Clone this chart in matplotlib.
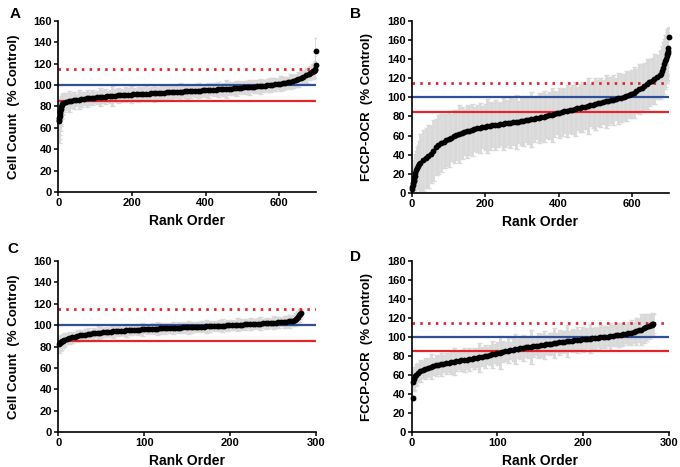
import matplotlib
matplotlib.use("Agg")
import matplotlib.pyplot as plt

plt.rcParams['font.family'] = ['Liberation Sans', 'DejaVu Sans']
plt.rcParams['font.weight'] = 'bold'

# ---------------- Panel A : Cell count, full library ----------------
A_rank = list(range(1, 11)) + list(range(14, 680, 7)) + [684, 688, 691, 694, 696, 697, 698, 699]
A_mean = [66.0, 67.5, 69.5, 71.5, 73.5, 76.0, 78.0, 79.5, 81.0, 82.3,
          83.4, 84.3, 84.8, 85.3, 85.7, 86.1, 86.5, 86.9, 87.2, 87.5,
          87.8, 88.1, 88.4, 88.6, 88.9, 89.1, 89.3, 89.5, 89.7, 89.9,
          90.1, 90.3, 90.5, 90.7, 90.8, 91.0, 91.1, 91.3, 91.4, 91.6,
          91.7, 91.9, 92.0, 92.1, 92.3, 92.4, 92.6, 92.7, 92.8, 93.0,
          93.1, 93.3, 93.4, 93.5, 93.7, 93.8, 93.9, 94.1, 94.2, 94.3,
          94.5, 94.6, 94.8, 94.9, 95.0, 95.2, 95.3, 95.5, 95.6, 95.8,
          95.9, 96.1, 96.2, 96.4, 96.6, 96.8, 97.0, 97.2, 97.4, 97.6,
          97.8, 98.0, 98.2, 98.4, 98.6, 98.8, 99.0, 99.2, 99.5, 99.8,
          100.1, 100.4, 100.7, 101.0, 101.3, 101.6, 102.0, 102.5, 103.0, 103.6,
          104.5, 105.6, 106.8, 108.0, 109.3, 110.6,
          111.6, 112.3, 113.0, 113.6, 114.2, 115.0, 119.0, 131.5]
A_err = [20, 18, 16, 14, 12, 12, 10, 10, 9, 9,
         9, 8, 10, 7, 8, 6, 9, 7, 6, 8,
         6, 7, 5, 6, 8, 6, 7, 5, 6, 9,
         6, 7, 6, 5, 7, 6, 8, 6, 5, 7,
         6, 6, 7, 5, 6, 8, 6, 5, 6, 7,
         6, 5, 7, 6, 6, 8, 5, 6, 7, 6,
         5, 6, 7, 6, 5, 6, 7, 5, 6, 6,
         7, 5, 6, 8, 6, 5, 6, 7, 6, 5,
         6, 6, 7, 5, 6, 6, 7, 6, 5, 6,
         7, 6, 6, 5, 7, 6, 6, 5, 7, 6,
         6, 7, 6, 6, 7, 6,
         6, 7, 6, 7, 8, 7, 8, 13]

# ---------------- Panel B : FCCP-OCR, full library ----------------
B_rank = [1, 2, 3, 4, 5, 6, 7, 8, 10, 12, 14, 17, 20] + list(range(24, 676, 7)) + \
         [679, 682, 685, 688, 690, 692, 694, 696, 697, 698, 699, 700]
B_mean = [4.0, 6.0, 8.0, 10.0, 12.0, 14.0, 16.0, 18.0, 21.0, 24.0, 26.5, 28.5, 30.0,
          31.5, 34.0, 36.5, 38.5, 40.5, 44.0, 48.0, 50.5, 52.3, 53.8,
          55.2, 56.6, 57.9, 59.2, 60.5, 61.6, 62.6, 63.6, 64.5, 65.3,
          66.1, 66.8, 67.5, 68.1, 68.7, 69.3, 69.8, 70.3, 70.8, 71.2,
          71.6, 72.0, 72.3, 72.7, 73.1, 73.5, 73.9, 74.3, 74.7, 75.1,
          75.6, 76.0, 76.5, 77.0, 77.5, 78.1, 78.7, 79.3, 79.9, 80.5,
          81.1, 81.8, 82.5, 83.2, 83.9, 84.6, 85.3, 86.0, 86.6, 87.2,
          87.8, 88.4, 89.0, 89.7, 90.4, 91.1, 91.8, 92.5, 93.2, 93.9,
          94.6, 95.2, 95.8, 96.4, 97.0, 97.6, 98.3, 99.0, 99.7, 100.5,
          101.3, 102.3, 103.5, 105.0, 106.7, 108.5, 110.3, 112.1, 113.9, 115.7,
          117.5, 119.3, 121.2, 123.2,
          125.0, 127.5, 131.0, 135.0, 138.0, 140.5, 143.0, 145.0, 147.0, 148.5, 152.0, 163.5]
B_err = [8, 10, 12, 14, 15, 16, 18, 18, 20, 20, 22, 22, 24,
         30, 32, 31, 33, 30, 32, 29, 31, 30, 28,
         27, 29, 25, 28, 26, 30, 27, 24, 28, 26,
         27, 23, 25, 26, 22, 24, 28, 25, 23, 26,
         24, 22, 27, 25, 23, 26, 24, 28, 22, 25,
         26, 23, 25, 29, 24, 22, 26, 25, 27, 23,
         25, 28, 24, 22, 26, 25, 23, 27, 24, 26,
         28, 23, 25, 26, 24, 29, 22, 25, 27, 24,
         26, 23, 28, 25, 24, 26, 22, 27, 25, 24,
         26, 24, 25, 27, 23, 26, 25, 24, 26, 25,
         24, 26, 23, 25,
         25, 26, 27, 26, 27, 25, 26, 27, 25, 24, 20, 10]

# ---------------- Panel C : Cell count, hit set ----------------
C_rank = [1, 2, 3, 4, 5] + list(range(7, 272, 3)) + [273, 275, 277, 278, 279, 280, 281, 282]
C_mean = [82.0, 83.0, 84.0, 84.7, 85.3,
          86.2, 87.2, 88.0, 88.7, 89.3, 89.9, 90.4, 90.8, 91.2, 91.6,
          91.9, 92.2, 92.5, 92.8, 93.0, 93.3, 93.5, 93.7, 93.9, 94.1,
          94.3, 94.5, 94.7, 94.9, 95.1, 95.2, 95.4, 95.6, 95.7, 95.9,
          96.0, 96.2, 96.3, 96.4, 96.6, 96.7, 96.8, 96.9, 97.0, 97.1,
          97.2, 97.3, 97.4, 97.5, 97.6, 97.7, 97.8, 97.9, 98.0, 98.1,
          98.2, 98.4, 98.5, 98.6, 98.7, 98.8, 98.9, 99.0, 99.2, 99.3,
          99.4, 99.5, 99.6, 99.8, 99.9, 100.0, 100.2, 100.3, 100.4, 100.6,
          100.7, 100.9, 101.0, 101.1, 101.3, 101.4, 101.5, 101.7, 101.8, 102.0,
          102.1, 102.3, 102.4, 102.6, 102.8, 103.0, 103.2, 103.5, 103.9,
          104.3, 105.0, 106.0, 107.0, 108.0, 109.3, 110.5, 111.5]
C_err = [8, 7, 7, 6, 6,
         6, 5, 6, 5, 4, 6, 5, 4, 5, 6,
         4, 5, 4, 6, 5, 4, 5, 4, 5, 6,
         4, 5, 4, 5, 6, 4, 5, 4, 5, 4,
         6, 4, 5, 4, 5, 4, 6, 5, 4, 5,
         4, 5, 6, 4, 5, 4, 5, 4, 6, 5,
         4, 5, 4, 5, 4, 6, 5, 4, 5, 4,
         5, 6, 4, 5, 4, 5, 4, 6, 5, 4,
         5, 4, 6, 5, 4, 5, 6, 4, 5, 5,
         4, 6, 5, 5, 4, 6, 5, 6, 5,
         5, 6, 5, 6, 5, 6, 5, 4]

# ---------------- Panel D : FCCP-OCR, hit set ----------------
D_rank = [1, 2, 3, 4, 5] + list(range(7, 278, 3)) + [279, 280, 281, 282]
D_mean = [36.0, 53.0, 56.0, 58.5, 60.5,
          62.5, 64.3, 65.6, 66.7, 67.7, 68.6, 69.4, 70.1, 70.8, 71.4,
          72.0, 72.5, 73.0, 73.5, 74.0, 74.4, 74.9, 75.3, 75.7, 76.1,
          76.5, 77.0, 77.5, 78.0, 78.6, 79.2, 79.8, 80.4, 81.1, 81.7,
          82.4, 83.0, 83.6, 84.3, 84.9, 85.5, 86.1, 86.7, 87.2, 87.7,
          88.2, 88.6, 89.0, 89.4, 89.8, 90.2, 90.6, 91.0, 91.4, 91.8,
          92.2, 92.6, 93.0, 93.5, 93.9, 94.3, 94.7, 95.1, 95.5, 95.9,
          96.2, 96.5, 96.9, 97.2, 97.5, 97.8, 98.1, 98.4, 98.7, 99.0,
          99.3, 99.6, 99.9, 100.1, 100.5, 100.8, 101.2, 101.6, 102.0, 102.4,
          102.9, 103.4, 103.9, 104.5, 105.2, 106.0, 106.9, 107.9, 109.0, 110.2,
          111.4,
          112.2, 112.8, 113.5, 114.2]
D_err = [2, 10, 12, 10, 11,
         10, 12, 9, 11, 10, 13, 9, 11, 10, 12,
         9, 11, 10, 12, 14, 10, 9, 11, 13, 10,
         12, 9, 11, 10, 15, 10, 12, 9, 11, 14,
         10, 12, 17, 11, 10, 13, 9, 12, 16, 10,
         11, 14, 10, 12, 18, 11, 10, 13, 12, 15,
         10, 12, 11, 16, 10, 13, 12, 11, 17, 10,
         12, 11, 14, 10, 13, 12, 10, 15, 11, 12,
         10, 13, 11, 12, 10, 14, 11, 10, 13, 12,
         11, 10, 12, 13, 11, 14, 12, 16, 15, 14,
         13,
         12, 13, 11, 10]

# reference levels (% control)
CONTROL = 100
LOW_CUT = 85
HIGH_CUT = 115

panels = [
    dict(letter='A', rank=A_rank, mean=A_mean, err=A_err, ylabel='Cell Count  (% Control)',
         xmax=700, xticks=[0, 200, 400, 600], ymax=160, rect=[0.0857, 0.589, 0.3794, 0.366]),
    dict(letter='B', rank=B_rank, mean=B_mean, err=B_err, ylabel='FCCP-OCR  (% Control)',
         xmax=700, xticks=[0, 200, 400, 600], ymax=180, rect=[0.6054, 0.587, 0.378, 0.368]),
    dict(letter='C', rank=C_rank, mean=C_mean, err=C_err, ylabel='Cell Count  (% Control)',
         xmax=300, xticks=[0, 100, 200, 300], ymax=160, rect=[0.0857, 0.075, 0.3794, 0.366]),
    dict(letter='D', rank=D_rank, mean=D_mean, err=D_err, ylabel='FCCP-OCR  (% Control)',
         xmax=300, xticks=[0, 100, 200, 300], ymax=180, rect=[0.6054, 0.075, 0.378, 0.366]),
]

fig = plt.figure(figsize=(6.8, 4.67), dpi=100)
letter_pos = {'A': (0.014, 0.985), 'B': (0.515, 0.985), 'C': (0.011, 0.482), 'D': (0.515, 0.465)}

for p in panels:
    ax = fig.add_axes(p['rect'])
    ax.errorbar(p['rank'], p['mean'], yerr=p['err'], fmt='none', ecolor='#d9d9d9',
                elinewidth=2.0, capsize=1.8, capthick=1.0, zorder=1)
    ax.axhline(CONTROL, color='#2f4f9a', lw=1.6, zorder=2)
    ax.axhline(LOW_CUT, color='#e3262c', lw=1.6, zorder=2)
    ax.axhline(HIGH_CUT, color='#e3262c', lw=2.0, ls=(0, (0.9, 1.9)), zorder=2)
    ax.plot(p['rank'], p['mean'], 'o', color='black', ms=4.2, mew=0, zorder=3, clip_on=False)
    ax.set_xlim(0, p['xmax'])
    ax.set_ylim(0, p['ymax'])
    ax.set_xticks(p['xticks'])
    ax.set_yticks(range(0, p['ymax'] + 1, 20))
    for s in ['top', 'right']:
        ax.spines[s].set_visible(False)
    for s in ['left', 'bottom']:
        ax.spines[s].set_linewidth(1.2)
    ax.tick_params(direction='out', length=3, width=1.1, labelsize=8, pad=1.5)
    for lab in ax.get_xticklabels() + ax.get_yticklabels():
        lab.set_fontweight('bold')
    ax.set_xlabel('Rank Order', fontsize=10, fontweight='bold', labelpad=4)
    ax.set_ylabel(p['ylabel'], fontsize=9.5, fontweight='bold', labelpad=10)
    lx, ly = letter_pos[p['letter']]
    fig.text(lx, ly, p['letter'], fontsize=11, fontweight='bold', va='top', ha='left')

fig.savefig('out.png', dpi=100)
